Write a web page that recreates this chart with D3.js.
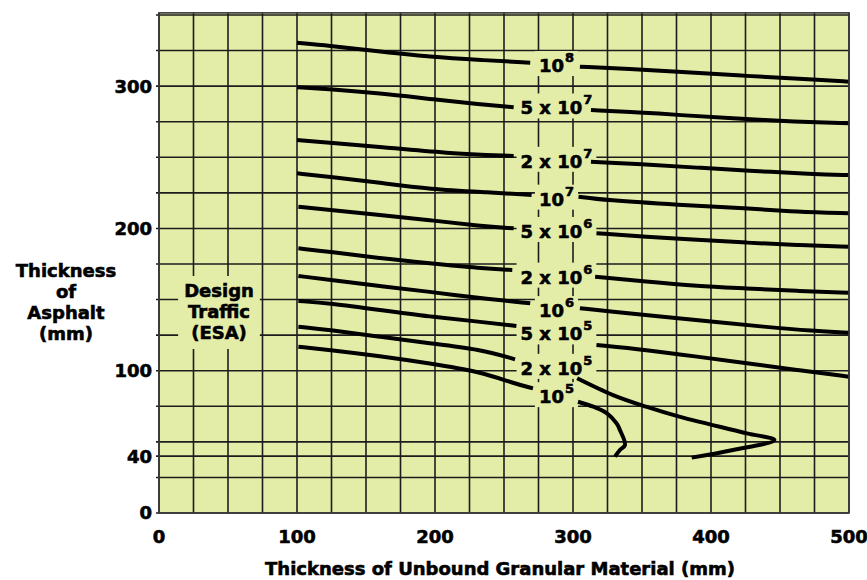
<!DOCTYPE html>
<html lang="en">
<head>
<meta charset="UTF-8">
<title>Thickness of Asphalt vs Unbound Granular Material</title>
<script src="https://cdn.jsdelivr.net/npm/d3@7/dist/d3.min.js"></script>
<style>
  body { margin: 0; background: #fff; }
  svg text { font-family: "DejaVu Sans", sans-serif; font-weight: bold; fill: #000; stroke: #000; stroke-width: 0.6px; }
</style>
</head>
<body>
<div id="chart"></div>
<script>
// axis ticks
var xTicks = [0, 100, 200, 300, 400, 500];
var yTicks = [0, 40, 100, 200, 300];

// design traffic labels (ESA)
var labelBase = ["10", "5 x 10", "2 x 10", "10", "5 x 10", "2 x 10", "10", "5 x 10", "2 x 10", "10"];
var labelExp  = ["8", "7", "7", "7", "6", "6", "6", "5", "5", "5"];
var labelY    = [309.9, 280.1, 242.6, 216, 193.3, 161.2, 137.7, 121.3, 97.1, 77.2];

// curves: [unbound mm, asphalt mm]; left part / right part of label
var c1e8L = [[100, 330.5], [124, 328.4], [150, 325.4], [199, 320.2], [233, 318.4], [269, 316.5]];
var c1e8R = [[305, 313.7], [341, 312], [377, 310.1], [426, 307.1], [474, 304.8], [500, 303.1]];
var c5e7L = [[100, 299.2], [124, 297.8], [160, 295], [196, 291], [233, 287.2], [257, 285.1]];
var c5e7R = [[313, 283.2], [349, 281.6], [377, 279.7], [414, 277.4], [462, 275], [500, 273.9]];
var c2e7L = [[100, 262.1], [124, 260.2], [160, 257.4], [208, 252.8], [257, 250.9]];
var c2e7R = [[313, 246.9], [353, 245], [390, 242.7], [426, 240.6], [474, 238.2], [500, 237.5]];
var c1e7L = [[100, 238.7], [124, 236.3], [160, 232.1], [196, 227.5], [240, 225.3], [270, 223.5]];
var c1e7R = [[304, 222.3], [323, 219.9], [377, 216.5], [426, 214.1], [462, 211.7], [500, 210.6]];
var c5e6L = [[101, 215.3], [124, 212.9], [160, 209.4], [196, 205.9], [233, 201.7], [257, 200.1]];
var c5e6R = [[317, 196.6], [353, 194.2], [390, 191.9], [426, 190], [462, 188.3], [500, 187.2]];
var c2e6L = [[101, 186], [124, 183.6], [160, 179], [196, 175.5], [233, 172], [256, 170.8]];
var c2e6R = [[316, 166.1], [353, 162.6], [390, 159.5], [426, 157.9], [462, 156], [500, 154.8]];
var c1e6L = [[101, 166.6], [124, 163.8], [160, 159.5], [196, 155.5], [233, 150.9], [269, 147.4]];
var c1e6R = [[305, 143.9], [329, 141.5], [365, 138], [402, 134.4], [438, 130.9], [474, 127.9], [500, 126.7]];
var c5e5L = [[101, 149], [124, 147.4], [160, 142.7], [196, 138], [233, 134.4], [259, 131.4]];
var c5e5R = [[317, 118.1], [353, 114.6], [390, 109.9], [426, 105.2], [462, 100.5], [500, 95.8]];
var c2e5L = [[101, 130.9], [124, 128.6], [160, 123.9], [196, 119.3], [233, 115], [258, 108]];
var c2e5R = [[303, 94.7], [329, 82.9], [353, 74.7], [377, 67.7], [426, 56], [446, 51.3], [416, 44.3], [386, 38.9]];
var c1e5L = [[101, 116.9], [124, 114.6], [160, 110.3], [196, 105.2], [233, 99.3], [257, 91.1], [271, 87.6]];
var c1e5R = [[303.6, 78.2], [314.7, 74.7], [324.6, 70.1], [331.6, 63], [334, 58.3], [337.7, 47.8], [334, 44.3], [330.4, 39.6]];

// the plain runs get smoothed; the two hooks near the bottom keep their shape
var segments = [c1e8L, c1e8R, c5e7L, c5e7R, c2e7L, c2e7R, c1e7L, c1e7R, c5e6L, c5e6R,
                c2e6L, c2e6R, c1e6L, c1e6R, c5e5L, c5e5R, c2e5L, c1e5L];
var hooks = [c2e5R, c1e5R];

var width = 867, height = 580;
var plotBg = "#e4eda8";

var svg = d3.select("#chart")
    .append("svg")
    .attr("width", width)
    .attr("height", height);

var x = d3.scaleLinear().domain([0, 500]).range([159, 849]);
var y = d3.scaleLinear().domain([0, 350]).range([513, 15]);
var yTop = 351.5;

// plot background
svg.append("rect")
    .attr("x", x(0)).attr("y", y(yTop))
    .attr("width", x(500) - x(0)).attr("height", y(0) - y(yTop))
    .attr("fill", plotBg);

// grid every 25 mm, plus the 40 mm line
var xGrid = d3.range(0, 501, 25);
var yGrid = d3.range(0, 351, 25).concat([40]);

var grid = svg.append("g").attr("stroke", "#1c1c1c").attr("stroke-width", 1.6);
grid.selectAll(".vg").data(xGrid).enter().append("line")
    .attr("x1", function(d) { return x(d); }).attr("x2", function(d) { return x(d); })
    .attr("y1", y(0)).attr("y2", y(yTop));
grid.selectAll(".hg").data(yGrid).enter().append("line")
    .attr("x1", x(0) - 3).attr("x2", x(500))
    .attr("y1", function(d) { return y(d); }).attr("y2", function(d) { return y(d); });

// "Design Traffic (ESA)" note with its own patch of background
var note = svg.append("g");
var noteBg = note.append("rect").attr("fill", plotBg);
var noteText = note.append("text").attr("text-anchor", "middle").style("font-size", "18px");
["Design", "Traffic", "(ESA)"].forEach(function(s, i) {
    noteText.append("tspan").attr("x", 219).attr("y", 297 + i * 21).text(s);
});
var nb = noteText.node().getBBox();
noteBg.attr("x", nb.x - 6).attr("y", nb.y - 4).attr("width", nb.width + 12).attr("height", nb.height + 10);

// curve labels, each on a patch of background
var labelX = x(288);
var labels = svg.append("g");
labelBase.forEach(function(b, i) {
    var g = labels.append("g");
    var bg = g.append("rect").attr("fill", plotBg);
    var t = g.append("text")
        .attr("x", labelX)
        .attr("y", y(labelY[i]))
        .attr("text-anchor", "middle")
        .style("font-size", "18px");
    t.append("tspan").text(b);
    t.append("tspan").attr("dx", 1).attr("dy", -10).style("font-size", "13px").text(labelExp[i]);
    var bb = t.node().getBBox();
    bg.attr("x", bb.x - 4).attr("y", bb.y + 1).attr("width", bb.width + 8).attr("height", bb.height - 1);
});

// curves
var smooth = d3.line()
    .x(function(d) { return x(d[0]); })
    .y(function(d) { return y(d[1]); })
    .curve(d3.curveBasis);
var hook = d3.line()
    .x(function(d) { return x(d[0]); })
    .y(function(d) { return y(d[1]); })
    .curve(d3.curveCatmullRom.alpha(0.5));

var curves = svg.append("g")
    .attr("fill", "none")
    .attr("stroke", "#000")
    .attr("stroke-width", 4)
    .attr("stroke-linejoin", "round");
curves.selectAll(".s").data(segments).enter().append("path").attr("d", smooth);
curves.selectAll(".h").data(hooks).enter().append("path").attr("d", hook);

// frame
svg.append("rect")
    .attr("x", x(0)).attr("y", y(yTop))
    .attr("width", x(500) - x(0)).attr("height", y(0) - y(yTop))
    .attr("fill", "none")
    .attr("stroke", "#3a3a3a")
    .attr("stroke-width", 1.6);

// tick labels
svg.append("g").selectAll("text").data(xTicks).enter().append("text")
    .attr("x", function(d) { return x(d); })
    .attr("y", 543)
    .attr("text-anchor", "middle")
    .style("font-size", "18px")
    .text(function(d) { return d; });

svg.append("g").selectAll("text").data(yTicks).enter().append("text")
    .attr("x", 152)
    .attr("y", function(d) { return y(d); })
    .attr("dy", "0.36em")
    .attr("text-anchor", "end")
    .style("font-size", "18px")
    .text(function(d) { return d; });

// axis titles
svg.append("text")
    .attr("x", 500).attr("y", 575)
    .attr("text-anchor", "middle")
    .style("font-size", "18px")
    .text("Thickness of Unbound Granular Material (mm)");

var yTitle = svg.append("text").attr("text-anchor", "middle").style("font-size", "18px");
["Thickness", "of", "Asphalt", "(mm)"].forEach(function(s, i) {
    yTitle.append("tspan").attr("x", 66).attr("y", 277 + i * 21).text(s);
});
</script>
</body>
</html>
